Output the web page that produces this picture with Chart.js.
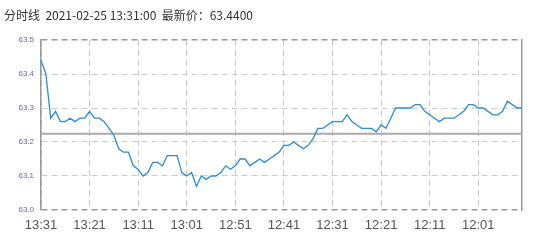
<!DOCTYPE html>
<html>
<head>
<meta charset="utf-8">
<script src="https://cdn.jsdelivr.net/npm/chart.js@4/dist/chart.umd.min.js"></script>
<style>
    html, body { margin: 0; padding: 0; background: #fff; }
    #wrap { position: relative; width: 533px; height: 244px; }
    #title {
        position: absolute; left: 4px; top: 6px;
        font: 12px "Noto Sans CJK SC", "Liberation Sans", sans-serif;
        color: #333; white-space: pre;
    }
</style>
</head>
<body>
<div id="wrap">
    <div id="title">分时线  2021-02-25 13:31:00  最新价：63.4400</div>
    <canvas id="chart" width="533" height="244"></canvas>
</div>
<script>
// Minute labels, newest first (as in the picture)
const timeLabels = [];
for (let m = 13 * 60 + 31; m > 13 * 60 + 31 - 100; m--) {
    const h = Math.floor(m / 60), mm = m % 60;
    timeLabels.push(h + ':' + String(mm).padStart(2, '0'));
}

// Price per minute
const prices = [
    63.44, 63.40, 63.27, 63.29, 63.26, 63.26, 63.27, 63.26, 63.27, 63.27,
    63.29, 63.27, 63.27, 63.26, 63.24, 63.22, 63.18, 63.17, 63.17, 63.13,
    63.12, 63.10, 63.11, 63.14, 63.14, 63.13, 63.16, 63.16, 63.16, 63.11,
    63.10, 63.11, 63.07, 63.10, 63.09, 63.10, 63.10, 63.11, 63.13, 63.12,
    63.13, 63.15, 63.15, 63.13, 63.14, 63.15, 63.14, 63.15, 63.16, 63.17,
    63.19, 63.19, 63.20, 63.19, 63.18, 63.19, 63.21, 63.24, 63.24, 63.25,
    63.26, 63.26, 63.26, 63.28, 63.26, 63.25, 63.24, 63.24, 63.24, 63.23,
    63.25, 63.24, 63.27, 63.30, 63.30, 63.30, 63.30, 63.31, 63.31, 63.29,
    63.28, 63.27, 63.26, 63.27, 63.27, 63.27, 63.28, 63.29, 63.31, 63.31,
    63.30, 63.30, 63.29, 63.28, 63.28, 63.29, 63.32, 63.31, 63.30, 63.30
];

// Previous close reference line
const prevClose = 63.224;

const yTicks = [63.0, 63.1, 63.2, 63.3, 63.4, 63.5];

// Draw the grey previous-close line through the y scale
const prevClosePlugin = {
    id: 'prevClose',
    beforeDatasetsDraw(chart) {
        const { ctx, chartArea, scales } = chart;
        const y = scales.y.getPixelForValue(prevClose);
        ctx.save();
        ctx.strokeStyle = '#aaaaaa';
        ctx.lineWidth = 2;
        ctx.beginPath();
        ctx.moveTo(chartArea.left, y);
        ctx.lineTo(chartArea.right, y);
        ctx.stroke();
        ctx.restore();
    }
};

new Chart(document.getElementById('chart'), {
    type: 'line',
    data: {
        labels: timeLabels,
        datasets: [{
            data: prices,
            borderColor: '#2a8ddb',
            borderWidth: 1.3,
            pointRadius: 0,
            tension: 0,
            fill: false
        }]
    },
    options: {
        responsive: false,
        animation: false,
        layout: { padding: { top: 40, right: 11, left: 0, bottom: 0 } },
        plugins: {
            legend: { display: false },
            title: { display: false },
            tooltip: { enabled: false }
        },
        scales: {
            x: {
                type: 'category',
                offset: false,
                grid: {
                    color: '#c8c8c8',
                    lineWidth: 1,
                    drawTicks: false
                },
                border: { display: false, dash: [6, 4] },
                ticks: {
                    autoSkip: false,
                    maxRotation: 0,
                    padding: 8,
                    color: '#555',
                    font: { family: 'Liberation Sans', size: 13 },
                    callback: function (val, idx) {
                        return idx % 10 === 0 ? timeLabels[idx] : null;
                    }
                },
                afterFit: function (scale) { scale.height = 34; }
            },
            y: {
                min: 63.0,
                max: 63.5,
                afterBuildTicks: function (scale) {
                    scale.ticks = yTicks.map(v => ({ value: v }));
                },
                grid: {
                    color: ctx => ctx.tick && (ctx.tick.value === 63.5 || ctx.tick.value === 63.0) ? '#999' : '#cccccc',
                    lineWidth: ctx => ctx.tick && (ctx.tick.value === 63.5 || ctx.tick.value === 63.0) ? 1.5 : 1,
                    drawTicks: false
                },
                border: { display: true, color: '#999', width: 1.5, dash: [6, 4] },
                ticks: {
                    padding: 7,
                    color: '#6c6c9c',
                    font: { family: 'Liberation Sans', size: 8 },
                    callback: v => Number(v).toFixed(1)
                },
                afterFit: function (scale) { scale.width = 41; }
            },
            yRight: {
                position: 'right',
                min: 63.0,
                max: 63.5,
                grid: { display: false, drawTicks: false },
                ticks: { display: false },
                border: { display: true, color: '#999', width: 1.5 },
                afterFit: function (scale) { scale.width = 0; }
            }
        }
    },
    plugins: [prevClosePlugin]
});
</script>
</body>
</html>
